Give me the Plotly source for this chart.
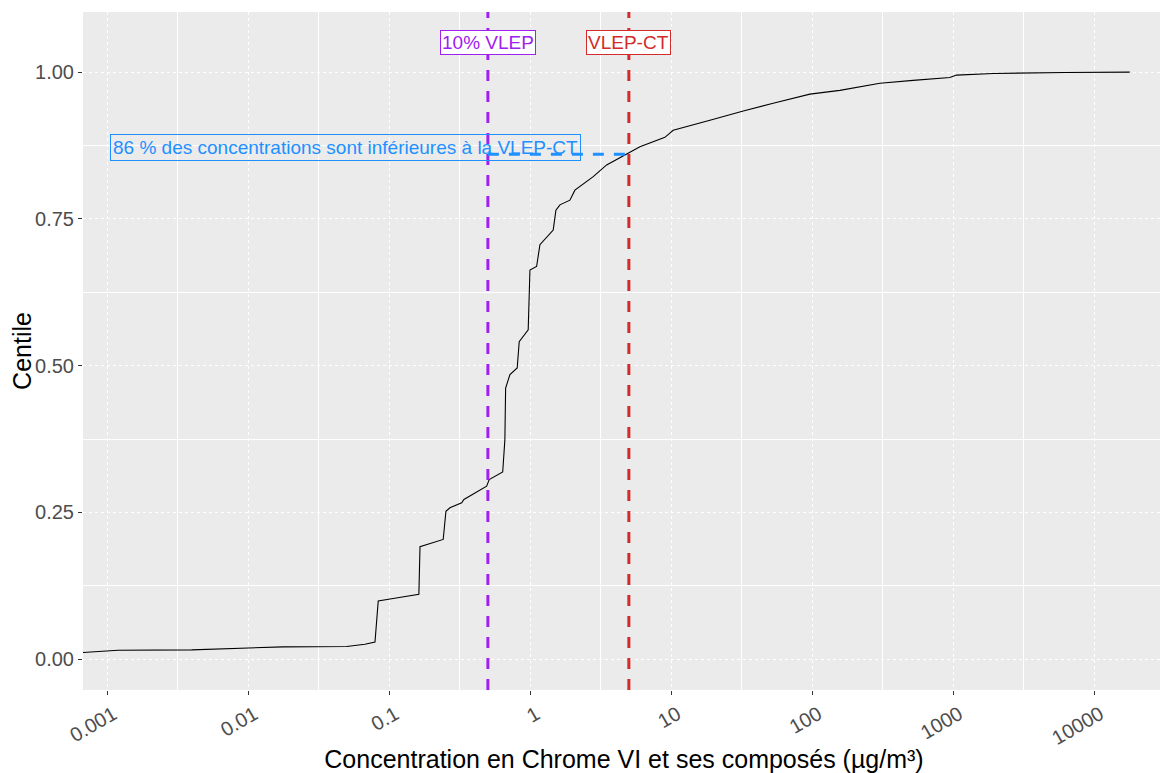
import numpy as np
import plotly.graph_objects as go

# ECDF curve
conc = [0.00059, 0.00119, 0.00396, 0.00993, 0.0176, 0.0498, 0.0671, 0.0791, 0.0834, 0.1038,
        0.162, 0.165, 0.241, 0.252, 0.269, 0.326, 0.338, 0.490, 0.511, 0.637,
        0.660, 0.668, 0.717, 0.807, 0.834, 0.966, 0.994, 1.108, 1.170, 1.453,
        1.519, 1.622, 1.909, 2.072, 2.794, 3.478, 5.03, 5.99, 9.01, 10.31,
        18.8, 32.4, 52.8, 96.2, 157, 302, 519, 946, 1055, 1918, 6196, 17870]
centile = [0.0105, 0.0153, 0.0158, 0.0187, 0.021, 0.0216, 0.0255, 0.029, 0.099, 0.103,
           0.1105, 0.1916, 0.204, 0.252, 0.258, 0.2665, 0.272, 0.2948, 0.306, 0.319,
           0.374, 0.462, 0.485, 0.496, 0.541, 0.561, 0.663, 0.669, 0.706, 0.731,
           0.765, 0.774, 0.782, 0.799, 0.822, 0.842, 0.8628, 0.873, 0.889, 0.901,
           0.918, 0.934, 0.947, 0.9626, 0.969, 0.981, 0.986, 0.991, 0.995, 0.9978, 0.9994, 1.0]

vlep_10 = 0.5
vlep_ct = 5
share_below = 0.86
label_y = 1.05
label_text_y = 0.872

x_ticks = [0.001, 0.01, 0.1, 1, 10, 100, 1000, 10000]
x_ticklabels = ["0.001", "0.01", "0.1", "1", "10", "100", "1000", "10000"]
y_ticks = [0, 0.25, 0.5, 0.75, 1.0]
y_ticklabels = ["0.00", "0.25", "0.50", "0.75", "1.00"]
x_minor = [10 ** (k + 0.5) for k in range(-4, 5)]
y_minor = [0.125, 0.375, 0.625, 0.875]

y_range = [-0.0525, 1.1025]
x_range_log = [-3.173, 4.502]

PURPLE = "#A020F0"
RED = "#D32B2B"
BLUE = "#1E90FF"
FONT = "Liberation Sans, Arial, sans-serif"

fig = go.Figure()

fig.add_trace(go.Scatter(x=conc, y=centile, mode="lines",
                         line=dict(color="black", width=1.1), showlegend=False, hoverinfo="skip"))

fig.add_trace(go.Scatter(x=[vlep_10, vlep_10], y=y_range, mode="lines",
                         line=dict(color=PURPLE, width=3, dash="11px,10px"), showlegend=False))
fig.add_trace(go.Scatter(x=[vlep_ct, vlep_ct], y=y_range, mode="lines",
                         line=dict(color=RED, width=3, dash="11px,10px"), showlegend=False))
fig.add_trace(go.Scatter(x=[vlep_10, vlep_ct], y=[share_below, share_below], mode="lines",
                         line=dict(color=BLUE, width=3, dash="11px,10px"), showlegend=False))

fig.add_annotation(x=np.log10(vlep_10), y=label_y, text="10% VLEP", showarrow=False,
                   font=dict(color=PURPLE, size=19, family=FONT), bgcolor="white",
                   bordercolor=PURPLE, borderwidth=1, borderpad=1)
fig.add_annotation(x=np.log10(vlep_ct), y=label_y, text="VLEP-CT", showarrow=False,
                   font=dict(color=RED, size=19, family=FONT), bgcolor="white",
                   bordercolor=RED, borderwidth=1, borderpad=1)
fig.add_annotation(x=np.log10(0.001), y=label_text_y, xanchor="left", xshift=3,
                   text="86 % des concentrations sont inférieures à la VLEP-CT", showarrow=False,
                   font=dict(color=BLUE, size=19, family=FONT),
                   bordercolor=BLUE, borderwidth=1, borderpad=2)

fig.update_layout(
    width=1160, height=765,
    margin=dict(l=75, r=3, t=4, b=83),
    paper_bgcolor="white", plot_bgcolor="#EBEBEB",
    font=dict(family=FONT),
    showlegend=False,
)
fig.update_xaxes(
    type="log", range=x_range_log, automargin=False,
    tickmode="array", tickvals=x_ticks, ticktext=x_ticklabels, tickangle=-30,
    tickfont=dict(size=20, color="#4D4D4D"), ticklabelshift=6,
    ticks="outside", ticklen=4, tickcolor="#333333",
    showgrid=True, gridcolor="white", gridwidth=0.5, griddash="dot",
    minor=dict(tickmode="array", tickvals=x_minor, showgrid=True, gridcolor="white",
               gridwidth=1.2, griddash="solid", ticks=""),
    zeroline=False, showline=False,
    title=dict(text="Concentration en Chrome VI et ses composés (µg/m³)",
               font=dict(size=25, color="black"), standoff=3),
)
fig.update_yaxes(
    range=y_range, automargin=False,
    tickmode="array", tickvals=y_ticks, ticktext=y_ticklabels,
    tickfont=dict(size=20, color="#4D4D4D"),
    ticks="outside", ticklen=4, tickcolor="#333333",
    showgrid=True, gridcolor="white", gridwidth=0.5, griddash="dot",
    minor=dict(tickmode="array", tickvals=y_minor, showgrid=True, gridcolor="white",
               gridwidth=1.2, griddash="solid", ticks=""),
    zeroline=False, showline=False,
    title=dict(text="Centile", font=dict(size=25, color="black"), standoff=12),
)

fig.write_html("out.html")
